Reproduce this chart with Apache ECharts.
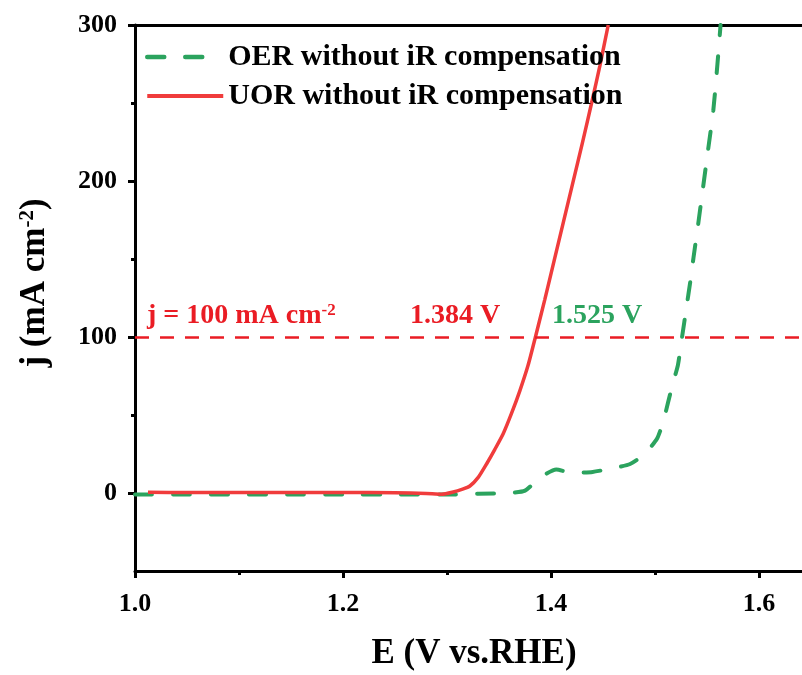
<!DOCTYPE html>
<html>
<head>
<meta charset="utf-8">
<script src="https://cdn.jsdelivr.net/npm/echarts@6/dist/echarts.min.js"></script>
<style>
html,body{margin:0;padding:0;background:#fff;}
#chart{width:802px;height:675px;}
</style>
</head>
<body>
<div id="chart"></div>
<script>
// ---- data ----
var oerE = [1.000, 1.05, 1.10, 1.15, 1.20, 1.25, 1.30, 1.33, 1.36, 1.375, 1.389, 1.405, 1.42, 1.44, 1.46, 1.476, 1.490, 1.502, 1.508, 1.5125, 1.517, 1.522, 1.526, 1.530, 1.534, 1.537, 1.541, 1.546, 1.551, 1.556, 1.560, 1.563];
var oerJ = [-1, -1, -1, -1, -1, -1, -1, -0.5, 0, 1.5, 9.6, 15, 13, 13.5, 16, 18.6, 25, 35, 46, 58, 70, 82, 100, 118, 136, 151, 170, 195, 220, 245, 275, 300];
var uorE = [1.0125, 1.05, 1.10, 1.15, 1.20, 1.25, 1.28, 1.295, 1.305, 1.315, 1.322, 1.330, 1.338, 1.346, 1.354, 1.362, 1.370, 1.378, 1.385, 1.394, 1.403, 1.412, 1.421, 1.430, 1.439, 1.447, 1.455];
var uorJ = [0.5, 0.3, 0.3, 0.3, 0.3, 0.2, -0.3, -0.8, 0.5, 2.5, 4.5, 10, 18.6, 28, 38, 51, 65.5, 82, 100, 124, 149, 174, 199, 224, 250, 274, 300];
var refJ = 100;
var seriesNames = ['OER without iR compensation', 'UOR without iR compensation'];
var xMajorTicks = [1.0, 1.2, 1.4, 1.6];
var xMinorTicks = [1.1, 1.3, 1.5];
var yMajorTicks = [0, 100, 200, 300];
var yMinorTicks = [50, 150, 250];
var xTitle = 'E (V vs.RHE)';
var yTitle = 'j (mA cm{sup|-2})';
var refLabel = 'j = 100 mA cm{sup|-2}';
var uorLabel = '1.384 V';
var oerLabel = '1.525 V';

function pairs(a, b) { return a.map(function (v, i) { return [v, b[i]]; }); }

var FONT = "'Liberation Serif','Times New Roman',serif";
var GREEN = '#2ba35e';
var RED = '#f03c3c';
var RED_TXT = '#ea1c24';

var chart = echarts.init(document.getElementById('chart'), null, {renderer: 'canvas'});

var labelStyle = {color: '#000', fontFamily: FONT, fontWeight: 'bold', fontSize: 26};

var option = {
  backgroundColor: '#fff',
  animation: false,
  grid: {left: 135, right: 0, top: 25, bottom: 104, containLabel: false},
  xAxis: [
    {
      type: 'value', min: 1.0, max: 1.6413, position: 'bottom',
      axisLine: {show: true, onZero: false, lineStyle: {color: '#000', width: 3}},
      axisTick: {show: true, inside: false, length: 7, lineStyle: {width: 3, color: '#000'}, customValues: xMajorTicks},
      axisLabel: Object.assign({margin: 20, customValues: xMajorTicks, formatter: function (v) { return v.toFixed(1); }}, labelStyle),
      splitLine: {show: false}
    },
    {
      type: 'value', min: 1.0, max: 1.6413, position: 'bottom',
      axisLine: {show: false, onZero: false},
      axisTick: {show: true, inside: false, length: 4, lineStyle: {width: 3, color: '#000'}, customValues: xMinorTicks},
      axisLabel: {show: false},
      splitLine: {show: false}
    },
    {
      type: 'value', min: 1.0, max: 1.6413, position: 'top',
      axisLine: {show: true, onZero: false, lineStyle: {color: '#000', width: 3}},
      axisTick: {show: false}, axisLabel: {show: false}, splitLine: {show: false}
    }
  ],
  yAxis: [
    {
      type: 'value', min: -50, max: 300, position: 'left',
      axisLine: {show: true, onZero: false, lineStyle: {color: '#000', width: 3}},
      axisTick: {show: true, inside: false, length: 7, lineStyle: {width: 3, color: '#000'}, customValues: yMajorTicks},
      axisLabel: Object.assign({margin: 18, customValues: yMajorTicks}, labelStyle),
      splitLine: {show: false}
    },
    {
      type: 'value', min: -50, max: 300, position: 'left',
      axisLine: {show: false, onZero: false},
      axisTick: {show: true, inside: false, length: 4, lineStyle: {width: 3, color: '#000'}, customValues: yMinorTicks},
      axisLabel: {show: false}, splitLine: {show: false}
    }
  ],
  legend: {
    orient: 'vertical', left: 140, top: 37,
    itemWidth: 76, itemHeight: 30, itemGap: 9,
    itemStyle: {opacity: 0},
    textStyle: {color: '#000', fontFamily: FONT, fontWeight: 'bold', fontSize: 30, lineHeight: 30, padding: [0, 0, 0, 0]},
    data: [
      {name: seriesNames[0], lineStyle: {color: GREEN, width: 4.5, type: [17, 21], cap: 'round'}},
      {name: seriesNames[1], lineStyle: {color: RED, width: 4}}
    ]
  },
  series: [
    {
      name: seriesNames[0], type: 'line', xAxisIndex: 0, yAxisIndex: 0,
      data: pairs(oerE, oerJ), showSymbol: false, symbol: 'none', smooth: 0.2,
      lineStyle: {color: GREEN, width: 4, type: [17, 21], cap: 'round'},
      itemStyle: {color: GREEN}, z: 2
    },
    {
      name: seriesNames[1], type: 'line', xAxisIndex: 0, yAxisIndex: 0,
      data: pairs(uorE, uorJ), showSymbol: false, symbol: 'none', smooth: 0.2,
      lineStyle: {color: RED, width: 3.5},
      itemStyle: {color: RED}, z: 3,
      markLine: {
        silent: true, symbol: ['none', 'none'], animation: false,
        label: {show: false},
        lineStyle: {color: RED_TXT, width: 2.5, type: [14, 11]},
        data: [{yAxis: refJ}]
      }
    }
  ],
  graphic: [
    {
      type: 'text', x: 474, y: 654, z: 10,
      style: {text: xTitle, fontFamily: FONT, fontWeight: 'bold', fontSize: 35, fill: '#000', align: 'center', verticalAlign: 'middle'}
    },
    {
      type: 'text', x: 35, y: 283, rotation: Math.PI / 2, z: 10,
      style: {
        text: yTitle, fontFamily: FONT, fontWeight: 'bold', fontSize: 35, fill: '#000', align: 'center', verticalAlign: 'middle',
        rich: {sup: {fontFamily: FONT, fontWeight: 'bold', fontSize: 21, fill: '#000', verticalAlign: 'top', padding: [0, 0, 12, 0]}}
      }
    },
    {
      type: 'text', x: 147, y: 316, z: 10,
      style: {
        text: refLabel, fontFamily: FONT, fontWeight: 'bold', fontSize: 28, fill: RED_TXT, align: 'left', verticalAlign: 'middle',
        rich: {sup: {fontFamily: FONT, fontWeight: 'bold', fontSize: 17, fill: RED_TXT, verticalAlign: 'top', padding: [0, 0, 10, 0]}}
      }
    },
    {
      type: 'text', x: 455, y: 316, z: 10,
      style: {text: uorLabel, fontFamily: FONT, fontWeight: 'bold', fontSize: 28, fill: RED_TXT, align: 'center', verticalAlign: 'middle'}
    },
    {
      type: 'text', x: 597, y: 316, z: 10,
      style: {text: oerLabel, fontFamily: FONT, fontWeight: 'bold', fontSize: 28, fill: GREEN, align: 'center', verticalAlign: 'middle'}
    }
  ]
};
chart.setOption(option);
</script>
</body>
</html>
